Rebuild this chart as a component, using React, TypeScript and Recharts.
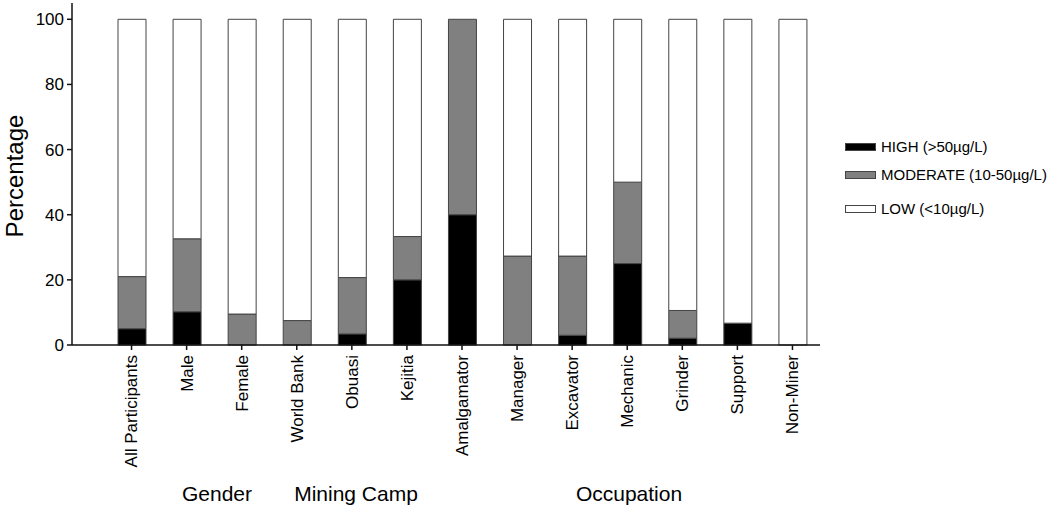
import { BarChart, Bar, XAxis, YAxis, Legend } from "recharts";

const categories = [
  "All Participants",
  "Male",
  "Female",
  "World Bank",
  "Obuasi",
  "Kejitia",
  "Amalgamator",
  "Manager",
  "Excavator",
  "Mechanic",
  "Grinder",
  "Support",
  "Non-Miner",
];

const high = [5, 10.2, 0, 0, 3.4, 20, 40, 0, 3, 25, 2.1, 6.7, 0];
const moderate = [16, 22.4, 9.5, 7.5, 17.3, 13.3, 60, 27.3, 24.3, 25, 8.5, 0, 0];
const low = [79, 67.4, 90.5, 92.5, 79.3, 66.7, 0, 72.7, 72.7, 50, 89.4, 93.3, 100];

const yTicks = [0, 20, 40, 60, 80, 100];

const groups = [
  { label: "Gender", x: 217 },
  { label: "Mining Camp", x: 356 },
  { label: "Occupation", x: 629 },
];

const SERIES = [
  { key: "high", name: "HIGH (>50\u00b5g/L)", fill: "#000000" },
  { key: "moderate", name: "MODERATE (10-50\u00b5g/L)", fill: "#808080" },
  { key: "low", name: "LOW (<10\u00b5g/L)", fill: "#ffffff" },
];

const FONT = "Arial, 'Liberation Sans', sans-serif";

const chartData = categories.map((name, i) => ({
  name,
  high: high[i],
  moderate: moderate[i],
  low: low[i],
}));

function CategoryTick(props: any) {
  const { x, y, payload } = props;
  return (
    <g transform={`translate(${x},${y})`}>
      <text
        x={0}
        y={0}
        dy="0.35em"
        transform="rotate(-90)"
        textAnchor="end"
        fill="#000"
        fontSize={17}
        fontFamily={FONT}
      >
        {payload.value}
      </text>
    </g>
  );
}

function LegendBox() {
  const rowTops = [0, 28, 62];
  return (
    <div style={{ position: "relative", width: 205, height: 80, fontFamily: FONT, textAlign: "left" }}>
      {SERIES.map((s, i) => (
        <div
          key={s.key}
          style={{
            position: "absolute",
            top: rowTops[i],
            left: 0,
            display: "flex",
            alignItems: "center",
            whiteSpace: "nowrap",
          }}
        >
          <span
            style={{
              display: "inline-block",
              width: 31,
              height: 8,
              background: s.fill,
              border: "1px solid #444",
              boxSizing: "border-box",
              marginRight: 5,
            }}
          />
          <span style={{ fontSize: 15, color: "#000" }}>{s.name}</span>
        </div>
      ))}
    </div>
  );
}

export default function App() {
  return (
    <div
      style={{
        position: "absolute",
        left: 0,
        top: 0,
        width: 1050,
        height: 509,
        background: "#fff",
      }}
    >
      <BarChart
        width={1050}
        height={509}
        data={chartData}
        margin={{ top: 3, right: 230, left: 0, bottom: 0 }}
      >
        <XAxis
          dataKey="name"
          height={164}
          interval={0}
          padding={{ left: 32, right: 0 }}
          axisLine={{ stroke: "#111", strokeWidth: 1.5 }}
          tickLine={{ stroke: "#111", strokeWidth: 1.5 }}
          tickSize={5}
          tickMargin={5}
          tick={<CategoryTick />}
        />
        <YAxis
          width={72}
          domain={[0, 105]}
          ticks={yTicks}
          axisLine={{ stroke: "#111", strokeWidth: 1.5 }}
          tickLine={{ stroke: "#111", strokeWidth: 1.5 }}
          tickSize={5}
          tickMargin={3}
          tick={{ fill: "#000", fontSize: 17, fontFamily: FONT }}
          label={{
            value: "Percentage",
            angle: -90,
            position: "insideLeft",
            dx: 9,
            dy: 2,
            style: { fontSize: 24, fill: "#000", fontFamily: FONT, textAnchor: "middle" },
          }}
        />
        <Legend
          layout="horizontal"
          align="center"
          verticalAlign="middle"
          content={<LegendBox />}
          wrapperStyle={{ position: "absolute", left: 845, top: 138, width: 205, height: 80 }}
        />
        {SERIES.map((s) => (
          <Bar
            key={s.key}
            dataKey={s.key}
            name={s.name}
            stackId="a"
            fill={s.fill}
            stroke="#444"
            strokeWidth={1}
            barSize={28}
            isAnimationActive={false}
          />
        ))}
      </BarChart>
      {groups.map((g) => (
        <div
          key={g.label}
          style={{
            position: "absolute",
            left: g.x,
            top: 482,
            transform: "translateX(-50%)",
            fontFamily: FONT,
            fontSize: 21,
            color: "#000",
            whiteSpace: "nowrap",
          }}
        >
          {g.label}
        </div>
      ))}
    </div>
  );
}
